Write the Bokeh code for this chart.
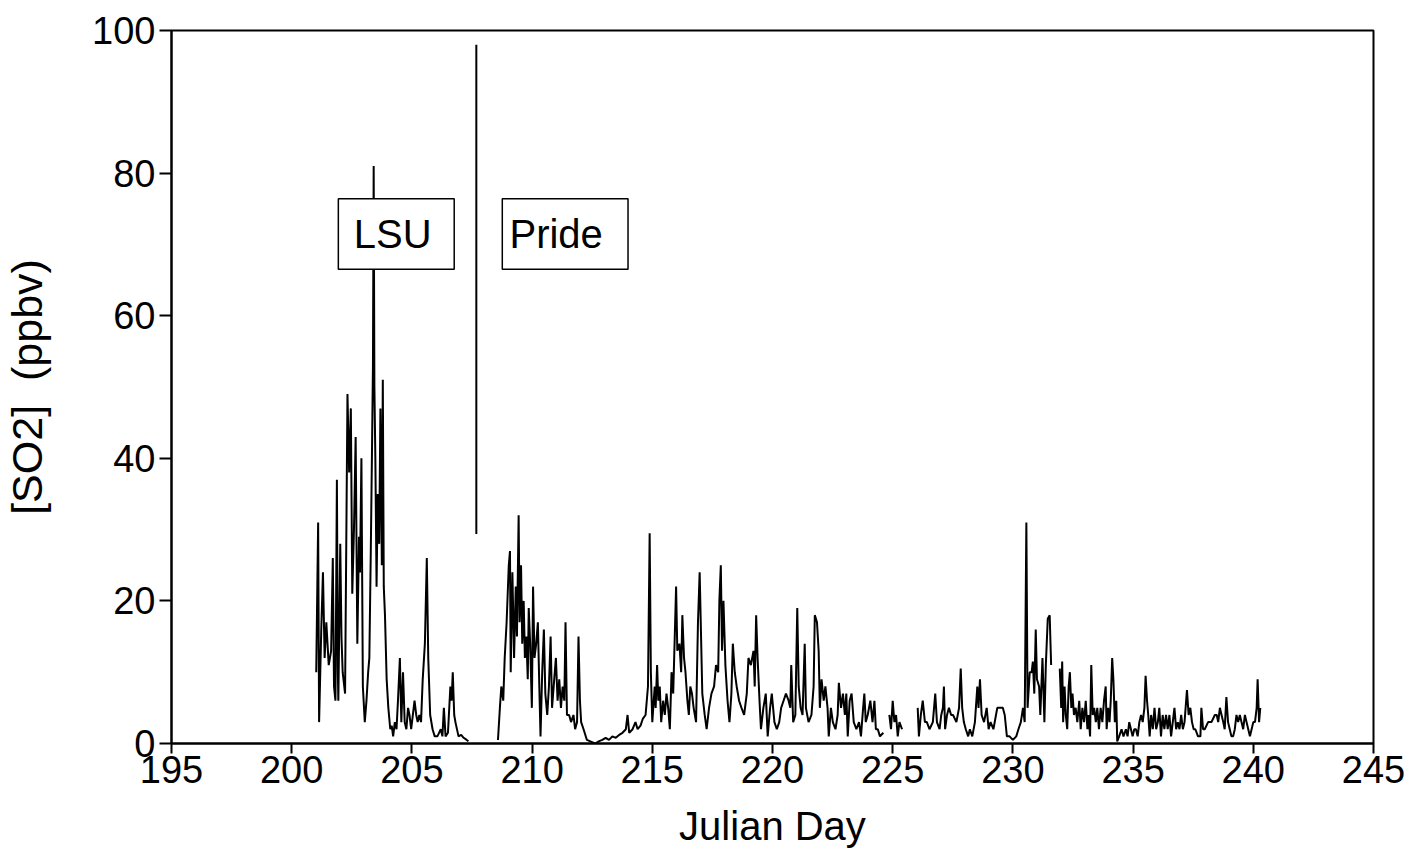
from bokeh.plotting import figure
from bokeh.models import FixedTicker, Range1d
from bokeh.core.properties import value
from bokeh.embed import file_html
from bokeh.resources import INLINE

nan = float("nan")

# Julian day and SO2 (ppbv); nan marks a data gap
day = [
    201.02, 201.10, 201.14, 201.23, 201.30, 201.37, 201.44, 201.54, 201.64, 201.71,
    201.76, 201.82, 201.88, 201.92, 201.94, 202.02, 202.07, 202.12, 202.22, 202.32,
    202.39, 202.46, 202.52, 202.59, 202.66, 202.73, 202.80, 202.84, 202.90, 202.96,
    203.04, 203.11, 203.18, 203.23, 203.29, 203.34, 203.38, 203.41, 203.44, 203.48,
    203.53, 203.58, 203.64, 203.69, 203.75, 203.79, 203.83, 203.88, 203.95, 204.02,
    204.10, 204.16, 204.22, 204.29, 204.36, 204.42, 204.50, 204.56, 204.63, 204.70,
    204.77, 204.84, 204.90, 204.97, 205.04, 205.11, 205.18, 205.24, 205.31, 205.38,
    205.45, 205.54, 205.62, 205.68, 205.76, 205.86, 205.95, 206.06, 206.13, 206.20,
    206.27, 206.33, 206.40, 206.50, 206.60, 206.65, 206.70, 206.76, 206.81, 206.94,
    207.05, 207.15, 207.28, 207.35, nan,
    208.58, 208.66, 208.72, 208.80, 208.86, 208.94, 209.03, 209.08, 209.11, 209.18,
    209.25, 209.32, 209.37, 209.44, 209.48, 209.54, 209.59, 209.65, 209.70, 209.76,
    209.82, 209.86, 209.92, 209.99, 210.04, 210.10, 210.17, 210.24, 210.30, 210.35,
    210.42, 210.49, 210.55, 210.63, 210.70, 210.77, 210.83, 210.92, 210.99, 211.06,
    211.13, 211.20, 211.27, 211.34, 211.39, 211.45, 211.54, 211.62, 211.72, 211.79,
    211.87, 211.93, 211.99, 212.04, 212.14, 212.28, 212.49, 212.63, 212.77, 212.92,
    213.06, 213.20, 213.34, 213.48, 213.62, 213.76, 213.90, 213.97, 214.04, 214.18,
    214.30, 214.39, 214.51, 214.61, 214.72, 214.82, 214.89, 214.94, 215.00, 215.10,
    215.14, 215.20, 215.25, 215.31, 215.37, 215.45, 215.52, 215.59, 215.66, 215.73,
    215.80, 215.87, 215.99, 216.04, 216.13, 216.20, 216.25, 216.32, 216.38, 216.46,
    216.52, 216.58, 216.65, 216.72, 216.82, 216.90, 216.97, 217.08, 217.18, 217.26,
    217.36, 217.46, 217.57, 217.65, 217.74, 217.79, 217.85, 217.90, 217.96, 218.04,
    218.13, 218.21, 218.29, 218.35, 218.43, 218.51, 218.61, 218.71, 218.82, 218.93,
    219.00, 219.10, 219.21, 219.26, 219.32, 219.38, 219.46, 219.52, 219.62, 219.72,
    219.80, 219.90, 219.97, 220.08, 220.18, 220.28, 220.36, 220.46, 220.56, 220.67,
    220.74, 220.78, 220.86, 220.95, 221.03, 221.09, 221.17, 221.25, 221.34, 221.39,
    221.50, 221.62, 221.71, 221.76, 221.85, 221.92, 221.97, 222.04, 222.13, 222.20,
    222.29, 222.34, 222.43, 222.51, 222.62, 222.71, 222.76, 222.85, 222.93, 223.01,
    223.07, 223.13, 223.21, 223.29, 223.38, 223.49, 223.60, 223.68, 223.77, 223.82,
    223.88, 223.96, 224.07, 224.16, 224.24, 224.30, 224.38, 224.47, 224.61, nan,
    224.86, 224.93, 225.00, 225.07, 225.14, 225.21, 225.28, 225.39, nan,
    226.04, 226.09, 226.17, 226.25, 226.34, 226.42, 226.53, 226.67, 226.77, 226.84,
    226.95, 227.02, 227.09, 227.13, 227.18, 227.26, 227.34, 227.43, 227.51, 227.65,
    227.76, 227.83, 227.89, 227.96, 228.04, 228.14, 228.21, 228.31, 228.42, 228.52,
    228.57, 228.63, 228.70, 228.80, 228.91, 228.99, 229.07, 229.19, 229.35, 229.47,
    229.58, 229.66, 229.75, 229.86, 230.00, 230.14, 230.23, 230.33, 230.42, 230.49,
    230.56, 230.61, 230.70, 230.78, 230.83, 230.89, 230.95, 231.00, 231.09, 231.14,
    231.23, 231.31, 231.37, 231.45, 231.53, 231.59, nan,
    231.95, 232.01, 232.05, 232.09, 232.15, 232.20, 232.26, 232.32, 232.37, 232.43,
    232.48, 232.54, 232.61, 232.68, 232.76, 232.82, 232.89, 232.96, 233.03, 233.10,
    233.15, 233.21, 233.26, 233.32, 233.38, 233.45, 233.51, 233.58, 233.65, 233.72,
    233.79, 233.86, 233.90, 233.96, 234.02, 234.07, 234.13, 234.18, 234.24, 234.30,
    234.34, 234.42, 234.52, 234.60, 234.70, 234.77, 234.84, 234.91, 234.98, 235.05,
    235.12, 235.19, 235.26, 235.33, 235.40, 235.47, 235.52, 235.58, 235.63, 235.69,
    235.75, 235.82, 235.89, 235.96, 236.03, 236.09, 236.16, 236.23, 236.30, 236.37,
    236.44, 236.51, 236.58, 236.65, 236.72, 236.79, 236.86, 236.93, 237.00, 237.07,
    237.14, 237.24, 237.31, 237.38, 237.45, 237.52, 237.59, 237.70, 237.80, 237.84,
    237.91, 237.98, 238.12, 238.26, 238.40, 238.48, 238.54, 238.61, 238.68, 238.75,
    238.81, 238.88, 238.95, 239.02, 239.09, 239.16, 239.23, 239.30, 239.37, 239.44,
    239.51, 239.58, 239.65, 239.72, 239.79, 239.86, 239.93, 240.00, 240.07, 240.14,
    240.18, 240.24, 240.29,
]

so2 = [
    10, 31, 3, 16, 24, 12, 17, 11, 13, 26,
    8, 6, 37, 10, 6, 28, 15, 10, 7, 49,
    38, 47, 21, 30, 43, 14, 29, 24, 40, 8,
    3, 6, 10, 12, 27, 41, 53, 81, 50, 40,
    22, 35, 28, 47, 25, 51, 22, 18, 9, 5,
    2, 2.5, 1, 3, 2, 6, 12, 3, 10, 3,
    2, 5, 4, 2, 4, 6, 4, 3, 4, 3,
    9, 14, 26, 12, 4, 2, 1, 1, 1.5, 2,
    1, 5, 1, 1.5, 8, 6, 10, 4, 3, 1,
    1.2, 0.8, 0.5, 0.3, nan,
    0.5, 5, 8, 6, 12, 17, 25, 27, 10, 24,
    12, 22, 15, 32, 17, 25, 14, 20, 12, 15,
    9, 19, 14, 5, 22, 12, 14, 17, 8, 1,
    10, 16, 7, 4, 8, 15, 5, 9, 12, 6,
    9, 5, 8, 6, 17, 4, 4, 3, 4, 2,
    3, 15, 6, 3, 2, 0.5, 0.2, 0, 0.3, 0.5,
    0.8, 0.5, 1, 0.8, 1.2, 1.5, 2, 4, 1.5, 2,
    3, 2, 2.5, 3.5, 4, 8, 29.5, 10, 3, 8,
    5, 11, 6, 8, 3, 6, 4, 7, 5, 2,
    10, 7, 22, 13, 14, 10, 18, 12, 10, 6,
    4, 8, 7, 5, 3, 17, 24, 7, 4, 2,
    5, 7, 8, 11, 10, 20, 25, 13, 20, 11,
    6, 3, 7, 14, 10, 8, 6, 5, 4, 7,
    12, 11, 13, 8, 18, 12, 6, 2, 5, 7,
    1, 5, 7, 3, 2, 3, 5, 6, 7, 6,
    5, 11, 3, 4, 19, 8, 5, 4, 14, 5,
    3, 4, 8, 18, 17, 13, 5, 9, 6, 8,
    5, 1, 5, 3, 2, 4, 8.5, 5, 7, 4,
    7, 1, 6, 7, 3, 2, 3, 1, 5, 7,
    3, 4, 6, 3, 6, 2, 2, 1, 1.5, nan,
    4, 2, 6, 3, 4, 1, 3, 2, nan,
    5, 1, 4, 6, 3, 3, 2, 3, 7, 3,
    2, 4, 5, 8, 2, 4, 5, 4, 4, 3,
    5, 10.5, 5, 3, 2, 1, 2, 1, 3, 8,
    5, 9, 4, 3, 5, 2, 3, 2, 5, 5,
    5, 4, 1, 1, 0.5, 1, 2, 3, 5, 3,
    31, 5, 10, 10, 11.5, 7, 16, 9, 8, 4,
    12, 3, 11, 17.5, 18, 11, nan,
    10.5, 5, 11.5, 3, 8, 4, 2, 8, 10, 5,
    7, 4, 5, 3, 6, 2, 5, 3, 6, 2,
    4, 1, 11, 4, 5, 3, 5, 2, 5, 3,
    6, 8, 2, 5, 3, 6, 12, 9, 3, 6,
    0.3, 1, 2, 1, 2, 1, 3, 2, 1, 2,
    2, 1, 3, 4, 3, 5, 9.5, 6, 4, 1,
    4, 2, 5, 2, 3, 5, 1, 4, 2, 4,
    2, 4, 1, 3, 5, 2, 3, 2, 4, 2,
    3, 7.5, 4, 5, 3, 2, 2, 1, 1, 5,
    2, 2, 3, 3, 4, 4, 3, 5, 4, 3,
    2, 6.5, 3, 2, 1, 1, 2, 4, 3, 4,
    3, 2, 4, 3, 2, 1, 2, 3, 3, 5,
    9, 3, 5,
]

# campaign separator line (day, low, high)
sep_day = [207.68]
sep_low = [29.4]
sep_high = [98.0]

# site label boxes
box_labels = ["LSU", "Pride"]
box_left = [201.94, 208.76]
box_right = [206.76, 213.99]
box_bottom = [66.5, 66.5]
box_top = [76.4, 76.4]
label_x = [204.2, 211.0]
label_y = [71.4, 71.4]

x_ticks = [195, 200, 205, 210, 215, 220, 225, 230, 235, 240, 245]
y_ticks = [0, 20, 40, 60, 80, 100]

FONT = "Liberation Sans"

p = figure(width=1423, height=859, output_backend="svg", toolbar_location=None,
           x_range=Range1d(195, 245), y_range=Range1d(0, 100),
           min_border_left=170, min_border_right=50, min_border_top=30,
           min_border_bottom=116)

p.line(day, so2, line_color="black", line_width=2)
p.segment(x0=sep_day, y0=sep_low, x1=sep_day, y1=sep_high,
          line_color="black", line_width=2)
p.quad(left=box_left, right=box_right, bottom=box_bottom, top=box_top,
       fill_color="white", line_color="black", line_width=1.5)
p.text(x=label_x, y=label_y, text=box_labels, text_font=value(FONT),
       text_font_size="40px", text_align="center", text_baseline="middle",
       text_color="black")

p.xgrid.visible = False
p.ygrid.visible = False
p.outline_line_color = "black"
p.outline_line_width = 2
p.outline_line_alpha = 1
p.background_fill_color = "white"
p.border_fill_color = "white"

p.xaxis.ticker = FixedTicker(ticks=x_ticks)
p.yaxis.ticker = FixedTicker(ticks=y_ticks)
p.xaxis.axis_label = "Julian Day"
p.yaxis.axis_label = "[SO2]\u00a0 (ppbv)"

for ax in (p.xaxis, p.yaxis):
    ax.axis_line_width = 2
    ax.axis_line_color = "black"
    ax.major_tick_line_width = 2
    ax.major_tick_line_color = "black"
    ax.major_tick_in = 0
    ax.minor_tick_line_color = None
    ax.major_label_text_font = FONT
    ax.major_label_text_font_size = "38px"
    ax.major_label_text_color = "black"
    ax.axis_label_text_font = FONT
    ax.axis_label_text_font_size = "40px"
    ax.axis_label_text_font_style = "normal"
    ax.axis_label_text_color = "black"

p.yaxis.axis_label_text_font_size = "43px"
p.xaxis.major_tick_out = 10
p.yaxis.major_tick_out = 12
p.xaxis.major_label_standoff = 2
p.yaxis.major_label_standoff = 4
p.xaxis.axis_label_standoff = 18
p.yaxis.axis_label_standoff = 38

open("out.html", "w").write(file_html(p, INLINE))
